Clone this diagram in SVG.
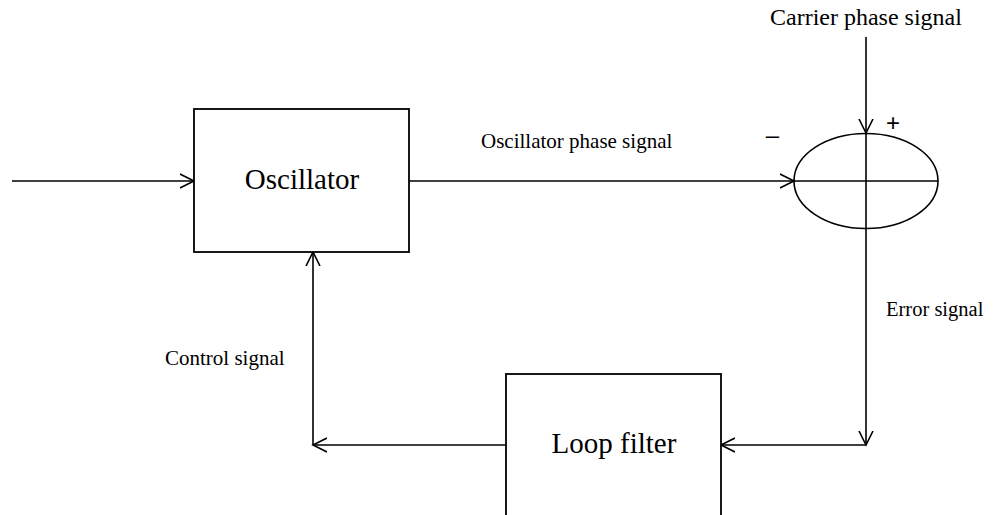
<svg xmlns="http://www.w3.org/2000/svg" width="993" height="515" viewBox="0 0 993 515">
<style>
.ln{fill:none;stroke:#000;stroke-width:1.6}
.box{fill:#fff;stroke:#000;stroke-width:1.8}
.t{font-family:"Liberation Serif","Times New Roman",serif;fill:#000}
.s{font-family:"Liberation Sans",Arial,sans-serif;fill:#000}
</style>
<defs>
<marker id="arr" viewBox="0 0 16 16" refX="14" refY="8" markerWidth="16" markerHeight="16" markerUnits="userSpaceOnUse" orient="auto">
<polyline points="0,1 14,8 0,15" fill="none" stroke="#000" stroke-width="1.6"/>
</marker>
</defs>
<rect width="993" height="515" fill="#fff"/>
<g id="connectors">
<line class="ln" x1="12" y1="181" x2="194" y2="181" marker-end="url(#arr)"/>
<line class="ln" x1="409" y1="181" x2="794" y2="181" marker-end="url(#arr)"/>
<line class="ln" x1="866" y1="37" x2="866" y2="133" marker-end="url(#arr)"/>
<line class="ln" x1="866" y1="228" x2="866" y2="445" marker-end="url(#arr)"/>
<line class="ln" x1="866" y1="445" x2="721" y2="445" marker-end="url(#arr)"/>
<line class="ln" x1="506" y1="445" x2="313" y2="445" marker-end="url(#arr)"/>
<line class="ln" x1="313" y1="445" x2="313" y2="252" marker-end="url(#arr)"/>
</g>
<g id="oscillator">
<rect class="box" x="194" y="109" width="215" height="143"/>
<text class="t" x="302" y="189" font-size="29" text-anchor="middle">Oscillator</text>
</g>
<g id="summer">
<ellipse class="ln" cx="866" cy="181" rx="72" ry="47.5"/>
<line class="ln" x1="794" y1="181" x2="938" y2="181"/>
<line class="ln" x1="866" y1="133" x2="866" y2="228"/>
<text class="s" x="893" y="130.5" font-size="24" text-anchor="middle">+</text>
<text class="s" x="772.5" y="142.5" font-size="24" text-anchor="middle">–</text>
</g>
<g id="loop-filter">
<rect class="box" x="506" y="374" width="215" height="160"/>
<text class="t" x="614" y="453" font-size="29" text-anchor="middle">Loop filter</text>
</g>
<g id="labels">
<text class="t" x="770" y="25" font-size="24">Carrier phase signal</text>
<text class="t" x="481" y="148" font-size="21">Oscillator phase signal</text>
<text class="t" x="886" y="316" font-size="20.5">Error signal</text>
<text class="t" x="165" y="365" font-size="21">Control signal</text>
</g>
</svg>
